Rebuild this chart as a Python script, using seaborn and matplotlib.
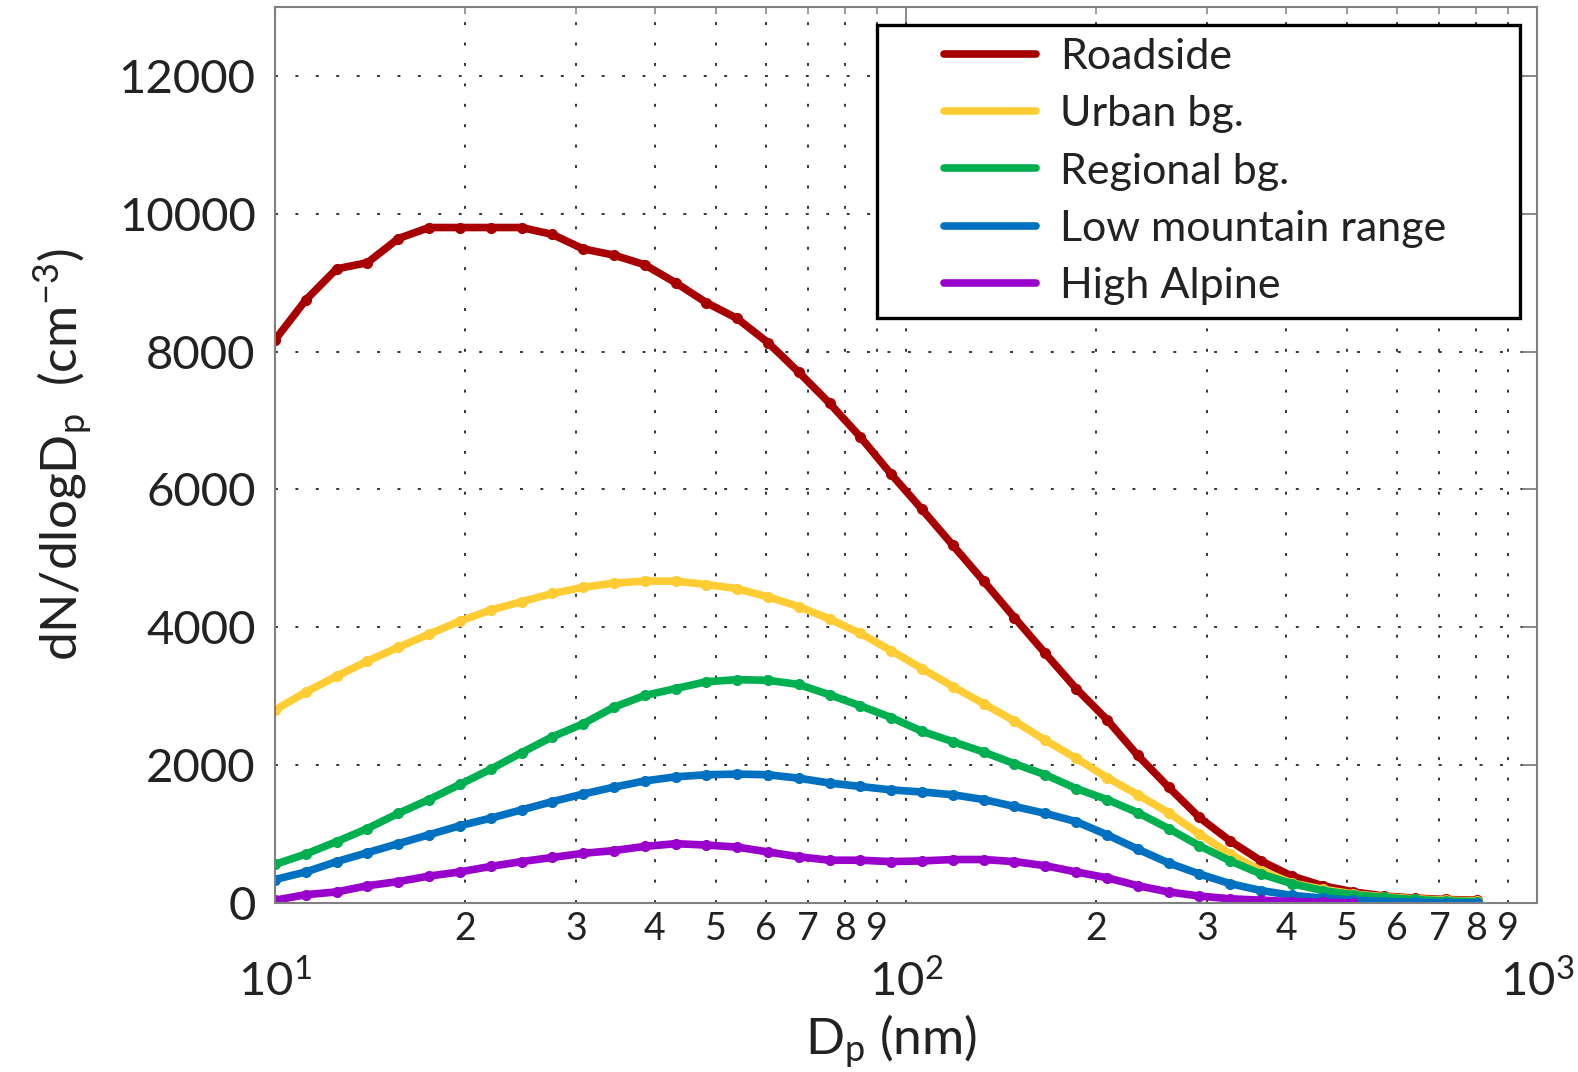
import numpy as np
import pandas as pd
import matplotlib.pyplot as plt
import matplotlib.ticker as mtick
import seaborn as sns
from matplotlib.lines import Line2D
from matplotlib.legend_handler import HandlerLine2D

# particle diameter bins (nm)
diameter_nm = [10.0, 11.19, 12.52, 14.01, 15.68, 17.54, 19.63, 21.96, 24.58, 27.50,
               30.77, 34.43, 38.53, 43.12, 48.25, 53.99, 60.41, 67.60, 75.65, 84.65,
               94.72, 106.0, 118.6, 132.7, 148.5, 166.2, 186.0, 208.1, 232.9, 260.6,
               291.6, 326.3, 365.1, 408.6, 457.2, 511.6, 572.5, 640.6, 716.8, 802.1]

roadside = [8170, 8750, 9200, 9290, 9640, 9800, 9800, 9800, 9800, 9700,
            9490, 9400, 9260, 9000, 8710, 8480, 8130, 7700, 7250, 6760,
            6220, 5710, 5190, 4670, 4140, 3620, 3110, 2660, 2140, 1680,
            1240, 900, 610, 390, 250, 160, 100, 70, 50, 40]
urban_bg = [2800, 3060, 3290, 3510, 3710, 3900, 4090, 4250, 4370, 4490,
            4580, 4640, 4670, 4670, 4620, 4560, 4440, 4300, 4120, 3910,
            3660, 3400, 3140, 2890, 2640, 2360, 2100, 1820, 1570, 1310,
            1000, 710, 470, 290, 200, 130, 90, 60, 40, 30]
regional_bg = [560, 710, 890, 1080, 1300, 1500, 1720, 1940, 2180, 2410,
               2600, 2840, 3010, 3110, 3210, 3240, 3230, 3170, 3020, 2860,
               2690, 2490, 2340, 2190, 2020, 1860, 1660, 1500, 1310, 1080,
               830, 610, 420, 280, 180, 120, 80, 50, 30, 20]
low_mountain = [340, 450, 600, 730, 860, 990, 1120, 1230, 1350, 1470,
                1580, 1680, 1770, 1830, 1860, 1870, 1860, 1810, 1740, 1690,
                1640, 1610, 1570, 1500, 1400, 1300, 1180, 990, 780, 580,
                420, 280, 180, 110, 70, 40, 20, 10, 5, 0]
high_alpine = [40, 120, 160, 250, 310, 390, 450, 530, 600, 660,
               720, 760, 820, 860, 840, 810, 740, 670, 620, 620,
               600, 610, 630, 630, 600, 540, 450, 365, 250, 160,
               100, 60, 40, 20, 10, 0]

labels = ['Roadside', 'Urban bg.', 'Regional bg.', 'Low mountain range', 'High Alpine']
series = [roadside, urban_bg, regional_bg, low_mountain, high_alpine]
colors = ['#A80000', '#FFCC33', '#00B050', '#0070C0', '#9900CC']

sns.set_style('white')
plt.rcParams['font.family'] = ['Lato', 'DejaVu Sans']
plt.rcParams['mathtext.default'] = 'regular'
text_col = '#222222'
frame_col = '#808080'

fig = plt.figure(figsize=(15.78, 10.72), dpi=100)
ax = fig.add_axes([0.1743, 0.1577, 0.7998, 0.8358])

for name, vals, col in zip(labels, series, colors):
    df = pd.DataFrame({'Dp': diameter_nm[:len(vals)], 'dN': vals})
    sns.lineplot(data=df, x='Dp', y='dN', ax=ax, color=col, linewidth=5.5,
                 marker='o', markersize=8, markeredgewidth=0, legend=False)

ax.set_xscale('log')
ax.set_xlim(10, 1000)
ax.set_ylim(0, 13000)
ax.set_yticks(np.arange(0, 12001, 2000))

ax.xaxis.set_major_locator(mtick.LogLocator(base=10))
ax.xaxis.set_minor_locator(mtick.LogLocator(base=10, subs=np.arange(2, 10)))
ax.xaxis.set_major_formatter(mtick.LogFormatterMathtext())
ax.xaxis.set_minor_formatter(mtick.FuncFormatter(
    lambda v, p: '%d' % round(v / 10 ** np.floor(np.log10(v) + 1e-9))))

grid_style = dict(linestyle=(0, (1.5, 9)), linewidth=1.4, color='#333333')
ax.grid(True, which='major', axis='y', **grid_style)
ax.grid(True, which='both', axis='x', **grid_style)
ax.set_axisbelow(True)

ax.tick_params(which='both', direction='in', top=True, right=True, color=frame_col)
ax.tick_params(which='major', length=11, width=1.3)
ax.tick_params(which='minor', length=5, width=1.1)
ax.tick_params(axis='y', labelsize=34, pad=14, labelcolor=text_col)
ax.tick_params(axis='x', which='major', labelsize=34, pad=40, labelcolor=text_col)
ax.tick_params(axis='x', which='minor', labelsize=27, pad=6, labelcolor=text_col)

for sp in ax.spines.values():
    sp.set_color(frame_col)
    sp.set_linewidth(1.5)

ax.set_xlabel('D$_p$ (nm)', fontsize=37, color=text_col)
ax.xaxis.set_label_coords(0.488, -0.122)
ax.set_ylabel('dN/dlogD$_p$  (cm$^{-3}$)', fontsize=37, color=text_col, labelpad=18)


class RightLine(HandlerLine2D):
    # legend line sits in the right part of the handle box
    def get_xdata(self, legend, xdescent, ydescent, width, height, fontsize):
        x = np.array([-xdescent + 0.37 * width, -xdescent + width])
        return x, x


handles = [Line2D([], [], color=c, linewidth=5.5) for c in colors]
leg = ax.legend(handles, labels, loc='upper left', mode='expand',
                bbox_to_anchor=(0.477, 0.6, 0.5095, 0.38),
                fontsize=31, frameon=True, fancybox=False, framealpha=1,
                edgecolor='black', borderpad=0.3, handlelength=3.4,
                handletextpad=0.55, labelspacing=0.45, borderaxespad=0,
                handler_map={Line2D: RightLine()})
leg.get_frame().set_linewidth(2.4)
for t in leg.get_texts():
    t.set_color(text_col)

fig.savefig('out.png', dpi=100)
